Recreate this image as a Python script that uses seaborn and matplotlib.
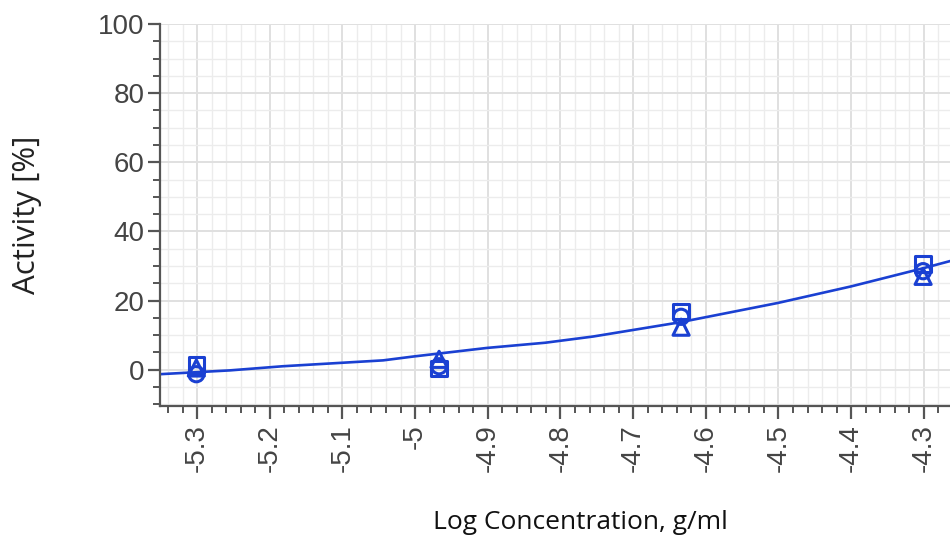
import numpy as np
import pandas as pd
import seaborn as sns
import matplotlib.pyplot as plt
from matplotlib.ticker import MultipleLocator

# replicate measurements at each log concentration
log_conc = [-5.301, -4.967, -4.634, -4.301]
rep_square = [1.4, 0.3, 16.8, 30.5]
rep_circle = [-1.3, 1.0, 15.3, 28.5]
rep_triangle = [0.5, 3.0, 12.3, 27.0]

# fitted curve
curve_x = [-5.36, -5.255, -5.182, -5.044, -5.003, -4.901, -4.821, -4.755,
           -4.636, -4.501, -4.400, -4.300, -4.25]
curve_y = [-1.4, -0.2, 1.0, 2.7, 3.8, 6.3, 7.8, 9.6,
           13.7, 19.3, 24.1, 29.4, 32.2]

blue = '#1a40d2'

sns.set_theme(style='white')
plt.rcParams['font.family'] = ['Liberation Sans', 'DejaVu Sans']

fig = plt.figure(figsize=(9.5, 5.38), dpi=100)
ax = fig.add_axes([160 / 950, 1 - 406 / 538, 790 / 950, 382 / 538])

sns.lineplot(x=curve_x, y=curve_y, sort=False, color=blue, linewidth=1.9, ax=ax)

for vals, mk, size in [(rep_square, 's', 125), (rep_circle, 'o', 120), (rep_triangle, '^', 135)]:
    sns.scatterplot(x=log_conc, y=vals, marker=mk, s=size, facecolors='none',
                    edgecolor=blue, linewidth=2.2, ax=ax, zorder=3)

ax.set_xlim(-5.351, -4.264)
ax.set_ylim(-10.5, 100)

ax.xaxis.set_major_locator(MultipleLocator(0.1))
ax.xaxis.set_minor_locator(MultipleLocator(0.02))
ax.yaxis.set_major_locator(MultipleLocator(20))
ax.yaxis.set_minor_locator(MultipleLocator(5))
ax.set_xticklabels([f'{t:g}' for t in ax.get_xticks()])

ax.grid(which='major', color='#e0e0e0', linewidth=1.4)
ax.grid(which='minor', color='#ececec', linewidth=1.0)
ax.set_axisbelow(True)

for side in ['top', 'right']:
    ax.spines[side].set_visible(False)
for side in ['left', 'bottom']:
    ax.spines[side].set_color('#555555')
    ax.spines[side].set_linewidth(1.6)

ax.tick_params(which='major', direction='out', length=9, width=1.6, color='#555555',
               labelsize=20, labelcolor='#444444', left=True, bottom=True)
ax.tick_params(which='minor', direction='out', length=5, width=1.4, color='#555555',
               left=True, bottom=True)
ax.tick_params(axis='x', which='major', labelrotation=90, pad=4)
ax.tick_params(axis='y', which='major', pad=2)

ax.set_ylabel('Activity [%]', fontsize=22.5, color='#222222', family='Open Sans')
ax.yaxis.set_label_coords(-0.149, 0.5)
ax.set_xlabel('Log Concentration, g/ml', fontsize=19, color='#111111', family='Open Sans')
ax.xaxis.set_label_coords(0.532, -0.272)

fig.savefig('out.png', dpi=100)
